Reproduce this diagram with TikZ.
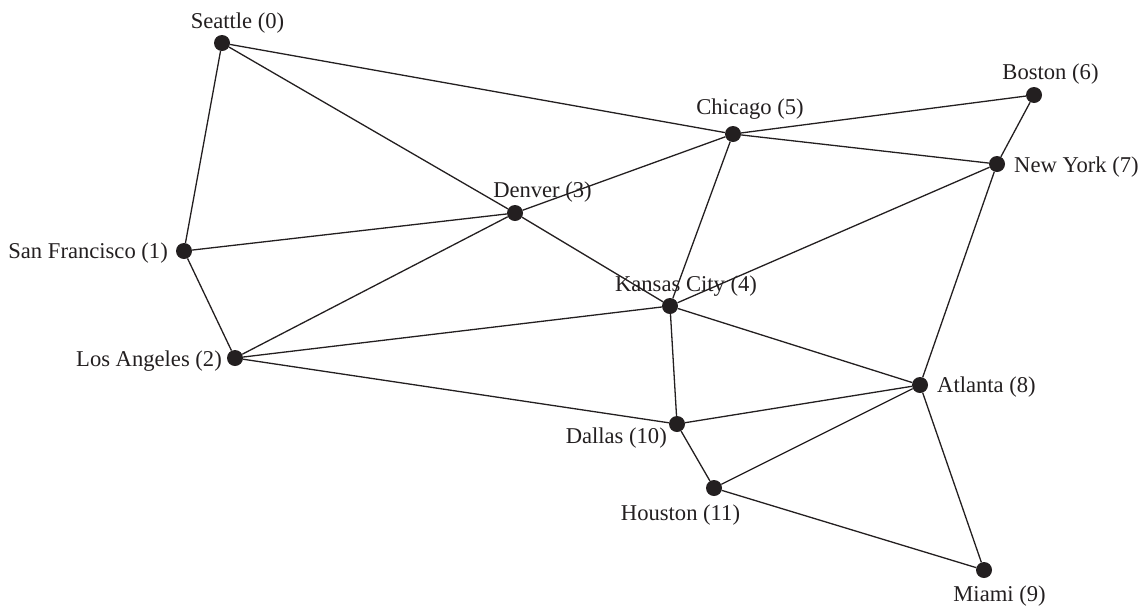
\documentclass[tikz,border=0pt]{standalone}
\usepackage{fontspec}
\setmainfont{Liberation Serif}
\definecolor{ink}{HTML}{231F20}
\begin{document}
\begin{tikzpicture}[x=1pt,y=-1pt,
  city/.style={circle,fill=ink,draw=none,minimum size=16pt,inner sep=0pt},
  lbl/.style={inner sep=0pt,text=ink,font=\fontsize{22.6}{26}\selectfont},
  road/.style={draw=ink,line width=1.3pt}]
\useasboundingbox (0,0) rectangle (1142,606);
% cities
\node[city] (c0) at (222,43) {};
\node[city] (c1) at (184,251) {};
\node[city] (c2) at (235,358) {};
\node[city] (c3) at (515,213) {};
\node[city] (c4) at (670,306) {};
\node[city] (c5) at (733,134) {};
\node[city] (c6) at (1034,95) {};
\node[city] (c7) at (997,164) {};
\node[city] (c8) at (920,385) {};
\node[city] (c9) at (984,570) {};
\node[city] (c10) at (677,424) {};
\node[city] (c11) at (714,488) {};
% labels
\node[lbl,anchor=base] (l0) at (237.5,28) {Seattle (0)};
\node[lbl,anchor=base east] (l1) at (168,258) {San Francisco (1)};
\node[lbl,anchor=base east] (l2) at (222,366) {Los Angeles (2)};
\node[lbl,anchor=base] (l3) at (542.5,197) {Denver (3)};
\node[lbl,anchor=base] (l4) at (686,291) {Kansas City (4)};
\node[lbl,anchor=base] (l5) at (750,114) {Chicago (5)};
\node[lbl,anchor=base] (l6) at (1050.5,79) {Boston (6)};
\node[lbl,anchor=base west] (l7) at (1014,172) {New York (7)};
\node[lbl,anchor=base west] (l8) at (937,392) {Atlanta (8)};
\node[lbl,anchor=base] (l9) at (999.5,601) {Miami (9)};
\node[lbl,anchor=base east] (l10) at (667,443) {Dallas (10)};
\node[lbl,anchor=base] (l11) at (680.5,520) {Houston (11)};
% roads
\draw[road] (c0) -- (c1);
\draw[road] (c0) -- (c3);
\draw[road] (c0) -- (c5);
\draw[road] (c1) -- (c2);
\draw[road] (c1) -- (c3);
\draw[road] (c2) -- (c3);
\draw[road] (c2) -- (c4);
\draw[road] (c2) -- (c10);
\draw[road] (c3) -- (c5);
\draw[road] (c3) -- (c4);
\draw[road] (c4) -- (c5);
\draw[road] (c4) -- (c7);
\draw[road] (c4) -- (c8);
\draw[road] (c4) -- (c10);
\draw[road] (c5) -- (c6);
\draw[road] (c5) -- (c7);
\draw[road] (c6) -- (c7);
\draw[road] (c7) -- (c8);
\draw[road] (c8) -- (c9);
\draw[road] (c8) -- (c10);
\draw[road] (c8) -- (c11);
\draw[road] (c9) -- (c11);
\draw[road] (c10) -- (c11);
\end{tikzpicture}
\end{document}
